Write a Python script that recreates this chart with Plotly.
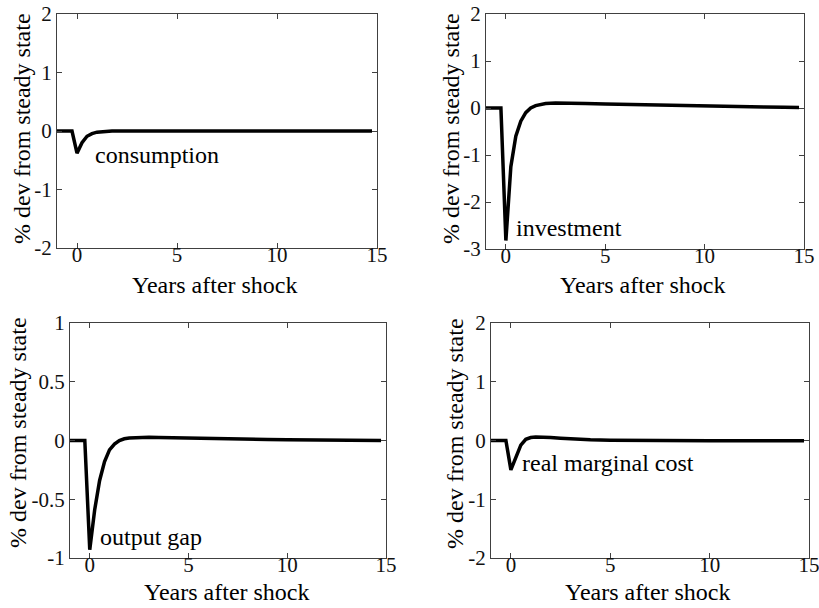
import plotly.graph_objects as go

# ---- data ----
years = [-1, -0.75, -0.5, -0.25, 0, 0.25, 0.5, 0.75, 1, 1.25, 1.5, 1.75, 2, 2.5, 3, 3.5, 4,
         5, 6, 7, 8, 9, 10, 11, 12, 13, 14, 14.75]
consumption = [0, 0, 0, 0, -0.38, -0.2, -0.09, -0.045, -0.02, -0.01, -0.005, -0.002, 0, 0, 0, 0, 0,
               0, 0, 0, 0, 0, 0, 0, 0, 0, 0, 0]
investment = [0, 0, 0, 0, -2.82, -1.25, -0.6, -0.28, -0.1, 0.0, 0.05, 0.08, 0.095, 0.105, 0.105, 0.1, 0.095,
              0.085, 0.075, 0.065, 0.055, 0.045, 0.04, 0.03, 0.025, 0.02, 0.015, 0.01]
output_gap = [0, 0, 0, 0, -0.93, -0.59, -0.34, -0.18, -0.08, -0.03, 0.0, 0.015, 0.022, 0.027, 0.027, 0.025, 0.023,
              0.02, 0.017, 0.014, 0.011, 0.009, 0.007, 0.005, 0.004, 0.003, 0.002, 0.001]
real_mc = [0, 0, 0, 0, -0.5, -0.27, -0.08, 0.02, 0.05, 0.06, 0.062, 0.058, 0.052, 0.04, 0.03, 0.02, 0.012,
           0.005, 0.0, -0.003, -0.005, -0.005, -0.005, -0.004, -0.004, -0.003, -0.003, -0.003]

series_names = ["consumption", "investment", "output gap", "real marginal cost"]
series_values = [consumption, investment, output_gap, real_mc]

x_ticks = [0, 5, 10, 15]
x_ticklabels = ["0", "5", "10", "15"]
y_ticks = [[-2, -1, 0, 1, 2], [-3, -2, -1, 0, 1, 2], [-1, -0.5, 0, 0.5, 1], [-2, -1, 0, 1, 2]]
y_ticklabels = [["-2", "-1", "0", "1", "2"], ["-3", "-2", "-1", "0", "1", "2"],
                ["-1", "-0.5", "0", "0.5", "1"], ["-2", "-1", "0", "1", "2"]]
y_ranges = [[-2, 2], [-3, 2], [-1, 1], [-2, 2]]
x_range = [-1, 15]
label_pos = [(0.8, -0.41), (0.43, -2.55), (0.42, -0.82), (0.47, -0.39)]
x_title = "Years after shock"
y_title = "% dev from steady state"

# ---- layout geometry (pixels) ----
W, H = 819, 608
boxes = [(57, 377, 14, 248), (486, 804, 14, 249), (70, 386, 323, 558), (491, 809, 323, 558)]
ytitle_pos = [(22, 129), (451, 129), (18, 433), (455, 434)]
xtitle_pos = [(215, 285), (643, 285), (227, 592), (648, 592)]

FONT = "Liberation Serif"
AX = "#404040"

fig = go.Figure()
annotations = []
for i in range(4):
    sfx = "" if i == 0 else str(i + 1)
    fig.add_trace(go.Scatter(x=years, y=series_values[i], mode="lines",
                             line=dict(color="black", width=3.5),
                             xaxis="x" + sfx, yaxis="y" + sfx, showlegend=False,
                             hoverinfo="skip"))
    x0, x1, y0, y1 = boxes[i]
    common = dict(showgrid=False, zeroline=False, showline=True, linecolor=AX, linewidth=1,
                  mirror="ticks", ticks="inside", ticklen=5, tickcolor=AX, tickwidth=1,
                  automargin=False, ticklabeloverflow="allow",
                  tickfont=dict(family=FONT, size=21, color="#111"))
    fig.layout["xaxis" + sfx] = dict(domain=[x0 / W, x1 / W], range=x_range, tickvals=x_ticks,
                                     ticktext=x_ticklabels, anchor="y" + sfx,
                                     ticklabelstandoff=-12, **common)
    fig.layout["yaxis" + sfx] = dict(domain=[1 - y1 / H, 1 - y0 / H], range=y_ranges[i],
                                     tickvals=y_ticks[i], ticktext=y_ticklabels[i],
                                     anchor="x" + sfx, **common)
    lx, ly = label_pos[i]
    annotations.append(dict(x=lx, y=ly, xref="x" + sfx, yref="y" + sfx, text=series_names[i],
                            showarrow=False, xanchor="left", yanchor="middle",
                            font=dict(family=FONT, size=24, color="black")))
    tx, ty = xtitle_pos[i]
    annotations.append(dict(x=tx / W, y=1 - ty / H, xref="paper", yref="paper", text=x_title,
                            showarrow=False, xanchor="center", yanchor="middle",
                            font=dict(family=FONT, size=24, color="black")))
    tx, ty = ytitle_pos[i]
    annotations.append(dict(x=tx / W, y=1 - ty / H, xref="paper", yref="paper", text=y_title,
                            showarrow=False, xanchor="center", yanchor="middle", textangle=-90,
                            font=dict(family=FONT, size=24, color="black")))

fig.update_layout(width=W, height=H,
                  margin=dict(l=0, r=0, t=0, b=0, pad=0, autoexpand=False),
                  paper_bgcolor="white", plot_bgcolor="white", annotations=annotations)
fig.write_html("out.html")
